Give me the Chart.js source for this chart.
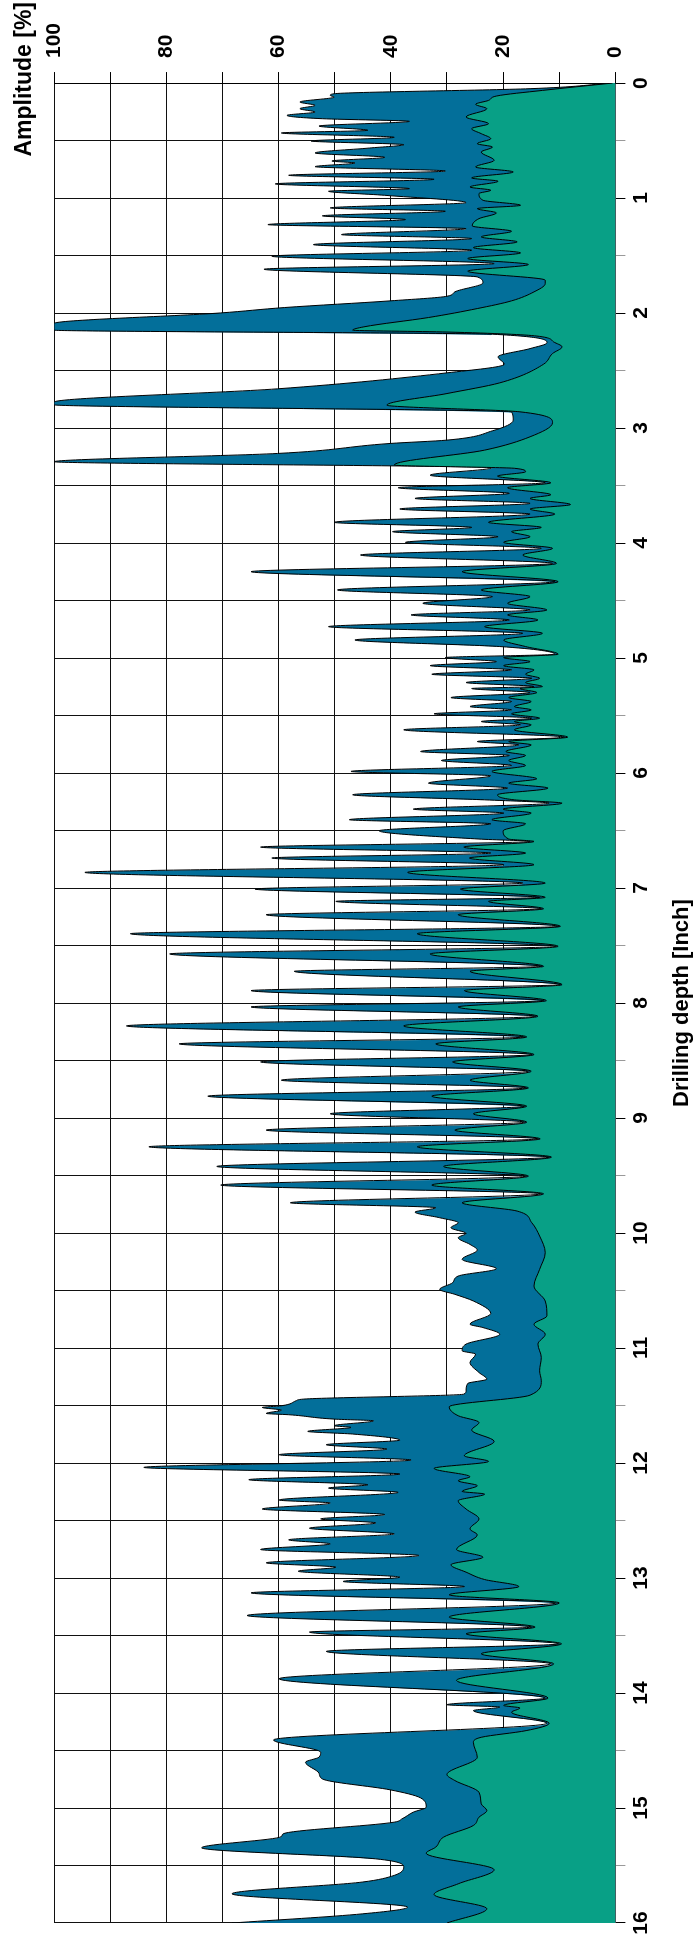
<!DOCTYPE html>
<html>
<head>
<meta charset="utf-8">
<script src="https://cdn.jsdelivr.net/npm/chart.js@4.4.1/dist/chart.umd.min.js"></script>
<style>
  html, body { margin: 0; padding: 0; background: #fff; overflow: hidden; }
  #wrap {
    position: absolute; left: 0; top: 0;
    width: 1938px; height: 696px;
    transform-origin: 0 0;
    transform: translateY(1938px) rotate(-90deg);
  }
</style>
</head>
<body>
<div id="wrap"><canvas id="chart" width="1938" height="696"></canvas></div>
<script>
// upper envelope (blue area)
const upperDepth = [
  0, 0.049, 0.093, 0.107, 0.122, 0.165, 0.194, 0.223, 0.252, 0.281,
  0.31, 0.333, 0.374, 0.411, 0.434, 0.472, 0.504, 0.536, 0.565, 0.608,
  0.646, 0.678, 0.695, 0.727, 0.765, 0.802, 0.837, 0.877, 0.918, 0.941,
  0.976, 1.04, 1.086, 1.115, 1.155, 1.187, 1.231, 1.266, 1.318, 1.352,
  1.405, 1.454, 1.506, 1.57, 1.619, 1.686, 1.738, 1.816, 1.854, 1.894,
  1.952, 1.999, 2.091, 2.149, 2.184, 2.259, 2.309, 2.381, 2.445, 2.52,
  2.659, 2.775, 2.798, 2.859, 2.931, 3.024, 3.105, 3.134, 3.221, 3.293,
  3.345, 3.41, 3.476, 3.519, 3.568, 3.612, 3.655, 3.704, 3.748, 3.82,
  3.864, 3.901, 3.945, 3.994, 4.046, 4.104, 4.177, 4.249, 4.336, 4.408,
  4.466, 4.524, 4.582, 4.625, 4.669, 4.727, 4.785, 4.843, 4.9, 4.967,
  4.996, 5.031, 5.066, 5.103, 5.141, 5.176, 5.213, 5.248, 5.265, 5.3,
  5.344, 5.378, 5.422, 5.451, 5.485, 5.523, 5.552, 5.581, 5.624, 5.688,
  5.726, 5.755, 5.813, 5.847, 5.891, 5.934, 5.986, 6.024, 6.088, 6.131,
  6.189, 6.233, 6.262, 6.314, 6.348, 6.406, 6.441, 6.502, 6.574, 6.595,
  6.644, 6.696, 6.739, 6.797, 6.864, 6.957, 7.009, 7.081, 7.116, 7.18,
  7.232, 7.333, 7.397, 7.507, 7.573, 7.681, 7.724, 7.84, 7.892, 7.979,
  8.034, 8.115, 8.199, 8.295, 8.355, 8.448, 8.512, 8.593, 8.671, 8.738,
  8.81, 8.897, 8.963, 9.036, 9.105, 9.181, 9.25, 9.34, 9.421, 9.505,
  9.583, 9.659, 9.737, 9.78, 9.818, 9.867, 9.91, 9.954, 10.003, 10.041,
  10.099, 10.148, 10.229, 10.31, 10.374, 10.432, 10.49, 10.533, 10.591, 10.7,
  10.793, 10.822, 10.88, 10.966, 11.024, 11.053, 11.126, 11.213, 11.271, 11.308,
  11.372, 11.401, 11.444, 11.459, 11.502, 11.517, 11.54, 11.569, 11.58, 11.618,
  11.633, 11.676, 11.69, 11.725, 11.748, 11.801, 11.841, 11.879, 11.928, 11.974,
  12.038, 12.096, 12.145, 12.189, 12.218, 12.255, 12.322, 12.348, 12.4, 12.448,
  12.486, 12.521, 12.567, 12.616, 12.668, 12.703, 12.752, 12.804, 12.868, 12.906,
  12.941, 12.993, 13.03, 13.074, 13.129, 13.216, 13.326, 13.427, 13.47, 13.572,
  13.638, 13.746, 13.876, 14.044, 14.102, 14.122, 14.153, 14.263, 14.408, 14.515,
  14.558, 14.602, 14.697, 14.747, 14.842, 14.912, 14.993, 15.036, 15.094, 15.123,
  15.225, 15.248, 15.346, 15.442, 15.514, 15.586, 15.644, 15.746, 15.862, 15.92,
  16
];
const upperAmp = [
  0.5, 15.2, 50.1, 50.8, 50.1, 56.2, 53.5, 56.2, 53.5, 58.5,
  52.2, 36.7, 52.8, 44.1, 59.5, 39.4, 54.2, 37.7, 43.8, 53.5,
  41.1, 50.5, 46.4, 53.5, 30.3, 58.2, 32.3, 60.6, 36.7, 51.1,
  41.1, 26.6, 50.8, 30.3, 52.2, 37.4, 61.9, 26.6, 48.8, 25.6,
  53.8, 25.6, 61.2, 21.6, 62.6, 24.6, 23.6, 28.6, 30.0, 40.1,
  58.9, 70.3, 100, 100, 21.9, 12.2, 15.2, 20.9, 19.8, 30.0,
  60.2, 100, 100, 18.5, 18.2, 21.9, 30.0, 40.1, 60.2, 100,
  22.0, 33.0, 12.5, 38.7, 18.9, 35.7, 15.2, 38.4, 15.2, 50.1,
  25.6, 39.7, 20.9, 37.4, 13.2, 45.4, 11.2, 64.9, 10.8, 49.5,
  21.9, 34.3, 15.2, 36.4, 18.9, 51.1, 16.5, 46.4, 20.6, 10.8,
  30.3, 21.2, 33.0, 18.5, 32.7, 14.9, 26.6, 14.5, 25.6, 15.2,
  29.3, 18.5, 25.9, 18.5, 32.3, 14.9, 23.9, 16.9, 37.7, 9.1,
  24.6, 17.2, 34.7, 18.9, 31.0, 18.5, 47.1, 22.2, 33.3, 19.2,
  46.8, 23.3, 11.8, 36.0, 19.9, 47.4, 22.2, 42.1, 24.3, 15.2,
  63.2, 22.2, 61.2, 19.9, 94.5, 16.5, 64.2, 13.5, 49.8, 13.2,
  62.2, 10.1, 86.4, 10.5, 79.4, 13.2, 57.2, 9.8, 64.9, 12.8,
  64.9, 14.2, 87.1, 16.2, 77.7, 14.9, 63.2, 15.5, 59.5, 15.9,
  72.6, 16.2, 50.8, 16.2, 62.2, 13.8, 83.1, 11.8, 71.0, 15.9,
  70.3, 13.2, 57.9, 32.0, 35.7, 31.3, 28.0, 29.3, 26.6, 28.0,
  25.9, 24.6, 27.3, 21.2, 28.0, 29.0, 31.3, 28.6, 25.3, 22.2,
  25.9, 23.6, 20.6, 26.6, 27.3, 24.9, 25.9, 24.3, 22.9, 26.3,
  26.6, 27.0, 55.5, 56.9, 59.5, 62.9, 59.5, 62.2, 58.2, 50.1,
  43.1, 50.1, 47.1, 54.8, 46.8, 38.4, 51.5, 40.7, 59.9, 36.4,
  84.0, 38.4, 65.3, 44.1, 51.1, 38.7, 59.9, 50.8, 62.9, 41.1,
  52.5, 42.7, 54.5, 39.4, 58.2, 50.8, 63.2, 35.0, 62.2, 49.8,
  56.5, 38.4, 48.5, 26.9, 64.9, 10.5, 65.6, 14.9, 54.5, 10.1,
  51.5, 11.5, 59.9, 12.5, 30.0, 20.6, 25.3, 12.2, 60.9, 52.5,
  52.8, 55.2, 52.8, 52.2, 40.1, 34.7, 33.7, 36.0, 38.0, 39.4,
  59.2, 59.5, 73.7, 42.7, 37.7, 39.4, 45.1, 68.3, 37.0, 45.0,
  68.3
];

// lower envelope (green area)
const lowerDepth = [
  0, 0.064, 0.113, 0.151, 0.185, 0.223, 0.295, 0.353, 0.397, 0.44,
  0.484, 0.527, 0.556, 0.6, 0.672, 0.73, 0.773, 0.825, 0.854, 0.904,
  0.932, 0.961, 1.019, 1.063, 1.092, 1.129, 1.179, 1.242, 1.289, 1.338,
  1.381, 1.431, 1.477, 1.526, 1.578, 1.636, 1.714, 1.744, 1.816, 1.894,
  1.961, 2.039, 2.12, 2.149, 2.165, 2.2, 2.251, 2.294, 2.352, 2.445,
  2.607, 2.7, 2.801, 2.859, 2.954, 3.076, 3.192, 3.322, 3.35, 3.38,
  3.418, 3.476, 3.519, 3.58, 3.612, 3.665, 3.704, 3.748, 3.82, 3.864,
  3.901, 3.945, 3.994, 4.046, 4.104, 4.177, 4.249, 4.336, 4.408, 4.466,
  4.524, 4.582, 4.625, 4.669, 4.727, 4.785, 4.843, 4.9, 4.967, 4.996,
  5.031, 5.066, 5.103, 5.141, 5.176, 5.213, 5.248, 5.265, 5.3, 5.344,
  5.378, 5.422, 5.451, 5.485, 5.523, 5.552, 5.581, 5.624, 5.688, 5.726,
  5.755, 5.813, 5.847, 5.891, 5.934, 5.986, 6.05, 6.088, 6.131, 6.189,
  6.233, 6.262, 6.314, 6.348, 6.406, 6.441, 6.502, 6.574, 6.595, 6.644,
  6.696, 6.739, 6.797, 6.864, 6.957, 7.009, 7.081, 7.116, 7.18, 7.232,
  7.333, 7.397, 7.507, 7.573, 7.681, 7.724, 7.84, 7.892, 7.979, 8.034,
  8.115, 8.199, 8.295, 8.355, 8.448, 8.512, 8.593, 8.671, 8.738, 8.81,
  8.897, 8.963, 9.036, 9.105, 9.181, 9.25, 9.34, 9.421, 9.505, 9.583,
  9.659, 9.737, 9.809, 9.91, 10.026, 10.171, 10.316, 10.461, 10.591, 10.72,
  10.793, 10.88, 10.966, 11.082, 11.198, 11.285, 11.41, 11.511, 11.589, 11.647,
  11.714, 11.812, 11.937, 11.986, 12.047, 12.119, 12.154, 12.197, 12.247, 12.27,
  12.328, 12.4, 12.486, 12.573, 12.625, 12.752, 12.819, 12.885, 12.949, 13.013,
  13.074, 13.146, 13.216, 13.34, 13.427, 13.485, 13.572, 13.659, 13.746, 13.89,
  14.044, 14.108, 14.13, 14.167, 14.263, 14.327, 14.385, 14.428, 14.558, 14.709,
  14.761, 14.863, 14.964, 15.022, 15.08, 15.152, 15.253, 15.34, 15.393, 15.537,
  15.659, 15.752, 15.876, 16
];
const lowerAmp = [
  0.5, 13.0, 21.2, 22.6, 24.9, 22.9, 26.6, 22.6, 25.6, 23.9,
  22.2, 24.6, 21.9, 23.9, 21.6, 24.9, 18.2, 25.6, 20.9, 25.9,
  22.2, 24.3, 23.6, 16.9, 24.6, 21.2, 24.3, 25.5, 18.5, 23.9,
  17.5, 25.3, 16.9, 26.3, 15.5, 26.3, 12.5, 12.5, 14.5, 18.5,
  24.6, 33.3, 44.8, 46.8, 30.0, 14.0, 11.0, 9.5, 11.2, 12.8,
  20.6, 30.0, 40.7, 17.0, 11.2, 15.2, 23.3, 39.4, 18.0, 16.0,
  21.0, 11.5, 19.2, 11.5, 15.2, 8.0, 15.2, 10.8, 22.6, 13.2,
  18.5, 15.2, 19.9, 11.2, 16.5, 10.5, 27.3, 10.2, 23.9, 15.2,
  19.2, 12.2, 19.2, 13.8, 23.3, 13.0, 19.9, 16.0, 10.2, 19.9,
  15.2, 19.9, 14.5, 16.0, 13.5, 16.0, 13.0, 17.0, 14.0, 19.0,
  15.0, 18.0, 15.0, 18.5, 13.5, 18.0, 15.0, 18.0, 8.5, 19.0,
  15.0, 19.5, 16.0, 19.0, 16.0, 22.0, 14.0, 19.0, 12.0, 21.0,
  18.0, 9.5, 20.0, 15.0, 22.0, 16.0, 20.0, 19.0, 14.5, 27.0,
  16.0, 26.0, 14.5, 37.0, 12.5, 27.6, 12.5, 22.6, 12.8, 28.0,
  9.8, 35.3, 10.2, 33.0, 12.8, 25.9, 9.5, 26.9, 12.3, 28.0,
  13.8, 37.7, 15.8, 32.0, 14.5, 29.0, 15.0, 25.9, 15.5, 32.7,
  15.8, 25.3, 15.8, 28.6, 13.4, 35.3, 11.4, 30.6, 15.5, 32.7,
  12.8, 27.3, 17.5, 14.9, 13.5, 12.5, 13.5, 14.5, 12.5, 12.2,
  14.5, 12.5, 13.8, 13.2, 13.5, 13.2, 15.2, 29.6, 28.0, 24.3,
  25.6, 21.6, 26.9, 22.6, 32.3, 25.9, 28.0, 24.6, 27.3, 23.3,
  28.0, 26.6, 24.3, 25.9, 24.6, 28.3, 23.6, 29.3, 26.6, 23.3,
  17.2, 29.6, 10.0, 29.6, 14.3, 26.6, 9.6, 23.9, 11.0, 28.3,
  12.0, 19.9, 17.0, 18.5, 11.8, 15.9, 23.9, 25.3, 24.6, 30.0,
  28.6, 24.3, 23.9, 22.9, 24.3, 25.3, 30.6, 32.0, 33.7, 21.6,
  28.0, 32.3, 22.9, 30.0
];

const FONT = '"Liberation Sans", Arial, sans-serif';

// y-axis caption sits at the top corner, outside the normal scale title slot
const ampTitle = {
  id: 'ampTitle',
  afterDraw(chart) {
    const ctx = chart.ctx;
    ctx.save();
    ctx.font = 'bold 23px ' + FONT;
    ctx.fillStyle = '#000';
    ctx.textAlign = 'right';
    ctx.textBaseline = 'alphabetic';
    ctx.fillText('Amplitude [%]', chart.width - 2, 31);
    ctx.restore();
  }
};

const data = {
  datasets: [{
    label: 'lower',
    data: lowerDepth.map((d, i) => ({ x: d, y: lowerAmp[i] })),
    backgroundColor: '#08a086',
    borderColor: '#000',
    borderWidth: 1,
    fill: 'origin',
    pointRadius: 0,
    cubicInterpolationMode: 'monotone',
    order: 0
  },
  {
    label: 'upper',
    data: upperDepth.map((d, i) => ({ x: d, y: upperAmp[i] })),
    backgroundColor: '#036f9a',
    borderColor: '#000',
    borderWidth: 1,
    fill: 'origin',
    pointRadius: 0,
    cubicInterpolationMode: 'monotone',
    order: 1
  }]
};

const config = {
  type: 'line',
  data,
  options: {
    responsive: false,
    animation: false,
    devicePixelRatio: 1,
    layout: {
      padding: { top: 54, right: 9, bottom: 0, left: 15 }
    },
    plugins: {
      legend: { display: false },
      tooltip: { enabled: false }
    },
    scales: {
      x: {
        type: 'linear',
        reverse: true,
        min: 0,
        max: 16,
        position: 'bottom',
        grid: {
          color: '#111',
          lineWidth: 1,
          tickLength: 10,
          tickColor: c => Number.isInteger(c.tick.value) ? '#000' : '#999'
        },
        border: { color: '#555' },
        ticks: {
          stepSize: 0.5,
          padding: 3,
          maxRotation: 0,
          autoSkip: false,
          color: '#000',
          font: { family: FONT, size: 21, weight: 'bold' },
          callback: v => Number.isInteger(v) ? String(v) : ''
        },
        title: {
          display: true,
          text: 'Drilling depth [Inch]',
          color: '#000',
          font: { family: FONT, size: 22, weight: 'bold' },
          padding: { top: 12, bottom: 1 }
        }
      },
      y: {
        position: 'right',
        min: 0,
        max: 100,
        grid: {
          color: '#111',
          lineWidth: 1,
          tickLength: 11,
          tickColor: '#000'
        },
        border: { color: '#000' },
        ticks: {
          stepSize: 10,
          padding: 14,
          autoSkip: false,
          color: '#000',
          font: { family: FONT, size: 21, weight: 'bold' },
          callback: v => v % 20 === 0 ? String(v) : ''
        }
      }
    }
  },
  plugins: [ampTitle]
};

const chart = new Chart(document.getElementById('chart'), config);
</script>
</body>
</html>
